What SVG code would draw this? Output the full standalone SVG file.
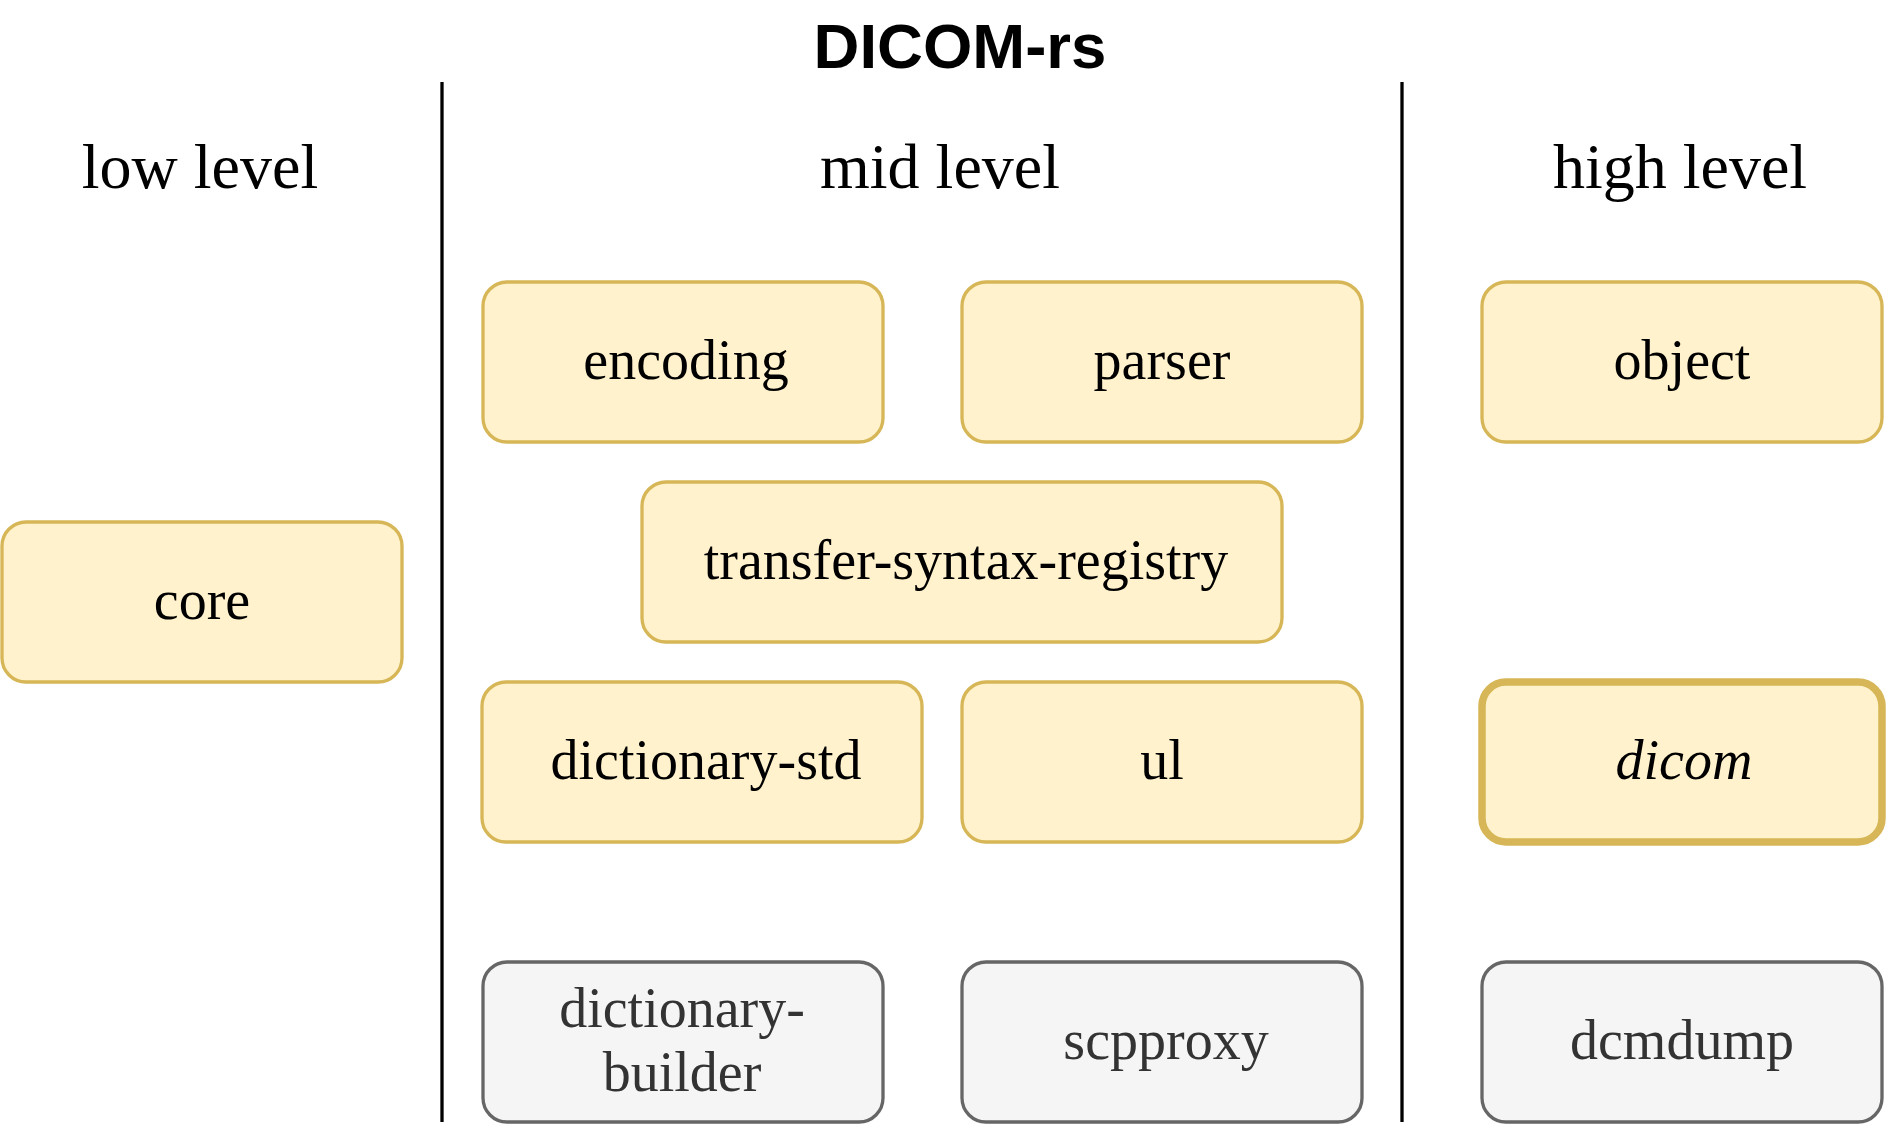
<svg xmlns="http://www.w3.org/2000/svg" width="1888" height="1128" viewBox="0 0 1888 1128">
<style>
.y rect{fill:#fff2cc;stroke:#d6b656;stroke-width:3.3}
.g rect{fill:#f5f5f5;stroke:#666666;stroke-width:3.3}
.t{font-family:"Liberation Serif","Times New Roman",serif;font-size:56px;text-anchor:middle;fill:#000}
.g .t{fill:#333333}
.h{font-family:"Liberation Serif","Times New Roman",serif;font-size:64px;text-anchor:middle;fill:#000}
.sep{stroke:#000;stroke-width:3.3}
</style>
<rect width="1888" height="1128" fill="#fff"/>
<text x="960" y="68" font-family="'Liberation Sans',Arial,sans-serif" font-weight="bold" font-size="63.5" text-anchor="middle">DICOM-rs</text>
<g id="separators">
<line class="sep" x1="442" y1="82" x2="442" y2="1122"/>
<line class="sep" x1="1402" y1="82" x2="1402" y2="1122"/>
</g>
<text class="h" x="200" y="188">low level</text>
<text class="h" x="940" y="188">mid level</text>
<text class="h" x="1680" y="188">high level</text>
<g id="core" class="y"><rect x="2" y="522" width="400" height="160" rx="24"/><text class="t" x="202" y="619">core</text></g>
<g id="encoding" class="y"><rect x="483" y="282" width="400" height="160" rx="24"/><text class="t" x="686" y="379">encoding</text></g>
<g id="parser" class="y"><rect x="962" y="282" width="400" height="160" rx="24"/><text class="t" x="1162" y="379">parser</text></g>
<g id="object" class="y"><rect x="1482" y="282" width="400" height="160" rx="24"/><text class="t" x="1682" y="379">object</text></g>
<g id="transfer-syntax-registry" class="y"><rect x="642" y="482" width="640" height="160" rx="24"/><text class="t" x="966" y="579">transfer-syntax-registry</text></g>
<g id="dictionary-std" class="y"><rect x="482" y="682" width="440" height="160" rx="24"/><text class="t" x="706" y="779">dictionary-std</text></g>
<g id="ul" class="y"><rect x="962" y="682" width="400" height="160" rx="24"/><text class="t" x="1162" y="779">ul</text></g>
<g id="dicom" class="y"><rect x="1482" y="682" width="400" height="160" rx="24" style="stroke-width:7.5"/><text class="t" x="1684" y="779" font-style="italic">dicom</text></g>
<g id="dictionary-builder" class="g"><rect x="483" y="962" width="400" height="160" rx="24"/><text class="t" x="682" y="1027">dictionary-</text><text class="t" x="682" y="1091">builder</text></g>
<g id="scpproxy" class="g"><rect x="962" y="962" width="400" height="160" rx="24"/><text class="t" x="1166" y="1059">scpproxy</text></g>
<g id="dcmdump" class="g"><rect x="1482" y="962" width="400" height="160" rx="24"/><text class="t" x="1682" y="1059">dcmdump</text></g>
<g id="connectors"></g>
</svg>
